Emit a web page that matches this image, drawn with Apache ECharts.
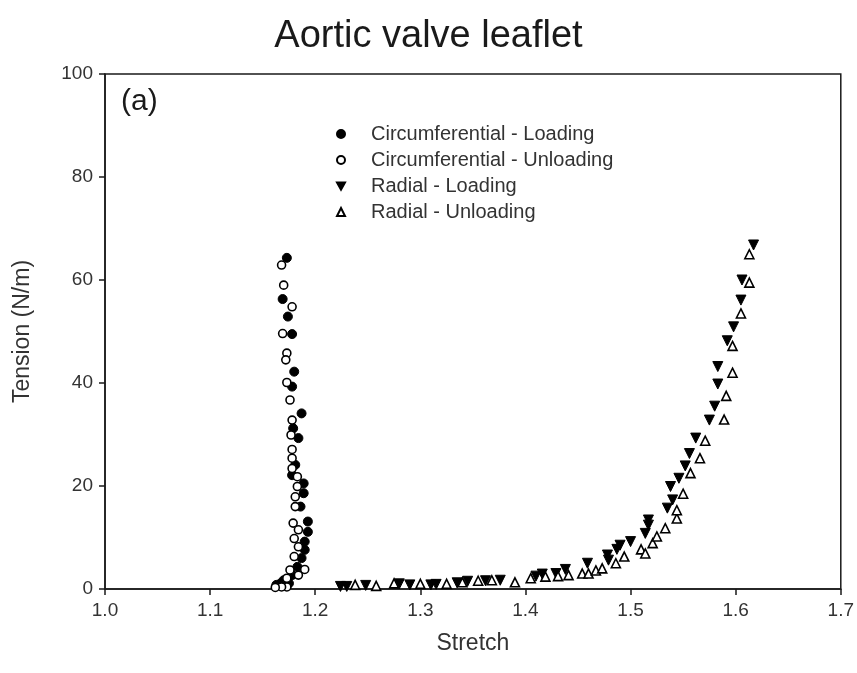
<!DOCTYPE html>
<html>
<head>
<meta charset="utf-8">
<script src="https://cdn.jsdelivr.net/npm/echarts@6/dist/echarts.min.js"></script>
<style>html,body{margin:0;padding:0;background:#fff;}#c{width:857px;height:673px;}</style>
</head>
<body>
<div id="c"></div>
<script>
const titleText = 'Aortic valve leaflet';
const xTicks = [1.0, 1.1, 1.2, 1.3, 1.4, 1.5, 1.6, 1.7];
const yTicks = [0, 20, 40, 60, 80, 100];
const seriesNames = ['Circumferential - Loading', 'Circumferential - Unloading', 'Radial - Loading', 'Radial - Unloading'];

const circLoading = [
  [1.173,64.3],[1.169,56.3],[1.174,52.9],[1.178,49.5],[1.180,42.2],[1.178,39.3],[1.187,34.1],
  [1.179,31.2],[1.184,29.3],[1.181,24.1],[1.178,22.1],[1.189,20.5],[1.189,18.6],[1.186,16.0],
  [1.193,13.1],[1.193,11.1],[1.190,9.2],[1.190,7.6],[1.187,6.0],[1.183,4.3],[1.178,2.7],
  [1.170,1.7],[1.175,1.1],[1.167,1.1],[1.163,0.8]
];
const circUnloading = [
  [1.168,62.9],[1.170,59.0],[1.178,54.8],[1.169,49.6],[1.173,45.8],[1.172,44.5],[1.173,40.1],
  [1.176,36.7],[1.178,32.8],[1.177,29.9],[1.178,27.1],[1.178,25.4],[1.178,23.4],[1.183,21.8],
  [1.183,19.9],[1.181,17.9],[1.181,16.0],[1.179,12.8],[1.184,11.5],[1.180,9.8],[1.184,8.2],
  [1.180,6.3],[1.190,3.8],[1.176,3.7],[1.184,2.7],[1.173,2.1],[1.173,0.4],[1.168,0.4],[1.162,0.3]
];
const radialLoading = [
  [1.224,0.5],[1.230,0.5],[1.248,0.7],[1.280,1.0],[1.290,0.8],[1.310,0.8],[1.315,0.9],[1.335,1.2],
  [1.345,1.5],[1.362,1.6],[1.376,1.7],[1.410,2.5],[1.416,2.9],[1.429,3.0],[1.438,3.8],[1.459,5.0],
  [1.478,6.6],[1.479,5.6],[1.487,7.7],[1.490,8.5],[1.500,9.2],[1.514,10.8],[1.517,12.4],[1.517,13.4],
  [1.535,15.7],[1.540,17.3],[1.538,19.9],[1.546,21.5],[1.552,23.9],[1.556,26.3],[1.562,29.3],
  [1.575,32.8],[1.580,35.5],[1.583,39.8],[1.583,43.2],[1.592,48.2],[1.598,50.9],[1.605,56.1],
  [1.606,60.0],[1.617,66.8]
];
const radialUnloading = [
  [1.238,0.8],[1.258,0.6],[1.275,1.1],[1.300,1.0],[1.325,1.0],[1.340,1.3],[1.355,1.6],[1.368,1.7],
  [1.390,1.3],[1.405,2.1],[1.419,2.4],[1.431,2.5],[1.441,2.7],[1.454,3.0],[1.460,3.0],[1.467,3.6],
  [1.473,4.0],[1.486,5.0],[1.494,6.3],[1.510,7.7],[1.514,6.9],[1.521,8.9],[1.525,10.2],[1.533,11.8],
  [1.544,13.7],[1.544,15.3],[1.550,18.5],[1.557,22.5],[1.566,25.4],[1.571,28.8],[1.589,32.9],
  [1.591,37.5],[1.597,42.0],[1.597,47.2],[1.605,53.5],[1.613,59.5],[1.613,65.0]
];

const font = 'Liberation Sans, Arial, sans-serif';
const ink = '#1a1a1a';
const downTri = 'path://M0,0 L10,0 L5,9 Z';
const chart = echarts.init(document.getElementById('c'));
chart.setOption({
  backgroundColor: '#fff',
  animation: false,
  title: {
    text: titleText, left: 'center', top: 13,
    textStyle: { fontFamily: font, fontSize: 38, fontWeight: 'normal', color: ink }
  },
  grid: { left: 105, right: 14, top: 74, bottom: 84, show: true, borderColor: ink, borderWidth: 1.5, backgroundColor: 'transparent' },
  legend: {
    orient: 'vertical', left: 331, top: 119, itemGap: 6,
    itemWidth: 8, itemHeight: 8,
    data: [
      { name: seriesNames[0] },
      { name: seriesNames[1] },
      { name: seriesNames[2], icon: downTri },
      { name: seriesNames[3] }
    ],
    textStyle: { fontFamily: font, fontSize: 20, color: '#333', padding: [0, 0, 0, 21] }
  },
  xAxis: {
    type: 'value', min: xTicks[0], max: xTicks[xTicks.length - 1], interval: 0.1,
    name: 'Stretch', nameLocation: 'middle', nameGap: 43,
    nameTextStyle: { fontFamily: font, fontSize: 23, color: '#333' },
    axisLine: { show: true, lineStyle: { color: ink, width: 1.5 } },
    axisTick: { show: true, length: 6, lineStyle: { color: ink, width: 1.5 } },
    axisLabel: { fontFamily: font, fontSize: 19, color: '#333', margin: 12, formatter: v => v.toFixed(1) },
    splitLine: { show: false }
  },
  yAxis: {
    type: 'value', min: yTicks[0], max: yTicks[yTicks.length - 1], interval: 20,
    name: 'Tension (N/m)', nameLocation: 'middle', nameGap: 71,
    nameTextStyle: { fontFamily: font, fontSize: 23, color: '#333' },
    axisLine: { show: true, lineStyle: { color: ink, width: 1.5 } },
    axisTick: { show: true, length: 6, lineStyle: { color: ink, width: 1.5 } },
    axisLabel: { fontFamily: font, fontSize: 19, color: '#333', margin: 12 },
    splitLine: { show: false }
  },
  graphic: [{
    type: 'text', left: 121, top: 87,
    style: { text: '(a)', fontFamily: font, fontSize: 30, fill: ink }
  }],
  series: [
    { name: seriesNames[0], type: 'scatter', data: circLoading, symbol: 'circle', symbolSize: 9,
      itemStyle: { color: '#000', borderColor: '#000', borderWidth: 1, opacity: 1 } },
    { name: seriesNames[1], type: 'scatter', data: circUnloading, symbol: 'circle', symbolSize: 8,
      itemStyle: { color: '#fff', borderColor: '#000', borderWidth: 1.6, opacity: 1 } },
    { name: seriesNames[2], type: 'scatter', data: radialLoading, symbol: 'triangle', symbolRotate: 180, symbolSize: 10,
      itemStyle: { color: '#000', borderColor: '#000', borderWidth: 1, opacity: 1 } },
    { name: seriesNames[3], type: 'scatter', data: radialUnloading, symbol: 'triangle', symbolSize: 9,
      itemStyle: { color: '#fff', borderColor: '#000', borderWidth: 1.6, opacity: 1 } }
  ]
});
</script>
</body>
</html>
